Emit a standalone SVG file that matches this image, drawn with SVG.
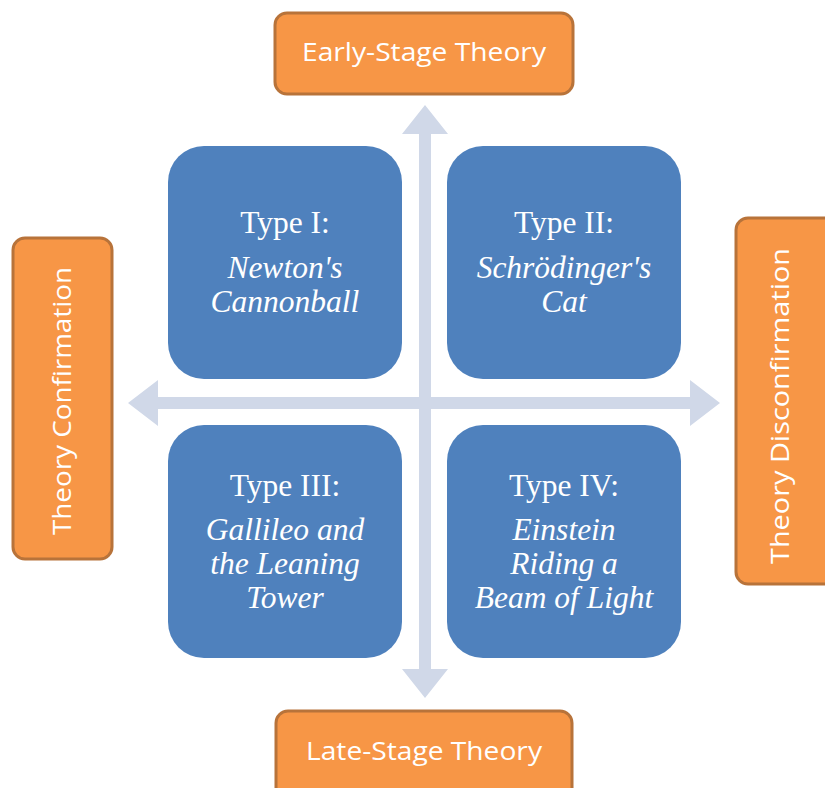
<svg xmlns="http://www.w3.org/2000/svg" width="825" height="788" viewBox="0 0 825 788">
<style>
.lab{fill:#F79646;stroke:#B8733A;stroke-width:3}
.labt{font-family:"Open Sans","Noto Sans",sans-serif;font-size:25px;fill:#fff;text-anchor:middle}
.q{fill:#4F81BD}
.qt{font-family:"Liberation Serif","DejaVu Serif",serif;font-size:31.5px;fill:#fff;text-anchor:middle}
.it{font-style:italic}
.arr{fill:#D0D8E8}
</style>
<rect width="825" height="788" fill="#fff"/>
<g id="connectors">
<path class="arr" d="M425,105 L448,134 L431,134 L431,397 L690,397 L690,380 L720,403 L690,426 L690,409 L431,409 L431,669 L448,669 L425,698 L402,669 L419,669 L419,409 L158,409 L158,426 L128,403 L158,380 L158,397 L419,397 L419,134 L402,134 Z"/>
</g>
<g id="type1"><rect class="q" x="168" y="146" width="234" height="233" rx="36"/>
<text class="qt" x="285" y="233">Type I:</text>
<text class="qt it" x="285" y="278">Newton's</text>
<text class="qt it" x="285" y="312">Cannonball</text></g>
<g id="type2"><rect class="q" x="447" y="146" width="234" height="233" rx="36"/>
<text class="qt" x="564" y="233">Type II:</text>
<text class="qt it" x="564" y="278">Schrödinger's</text>
<text class="qt it" x="564" y="312">Cat</text></g>
<g id="type3"><rect class="q" x="168" y="425" width="234" height="233" rx="36"/>
<text class="qt" x="285" y="496">Type III:</text>
<text class="qt it" x="285" y="540">Gallileo and</text>
<text class="qt it" x="285" y="574">the Leaning</text>
<text class="qt it" x="285" y="608">Tower</text></g>
<g id="type4"><rect class="q" x="447" y="425" width="234" height="233" rx="36"/>
<text class="qt" x="564" y="496">Type IV:</text>
<text class="qt it" x="564" y="540">Einstein</text>
<text class="qt it" x="564" y="574">Riding a</text>
<text class="qt it" x="564" y="608">Beam of Light</text></g>
<g id="early"><rect class="lab" x="275" y="13" width="298" height="81" rx="12"/>
<text class="labt" x="424" y="61" textLength="244" lengthAdjust="spacingAndGlyphs">Early-Stage Theory</text></g>
<g id="late"><rect class="lab" x="276" y="711" width="296" height="90" rx="12"/>
<text class="labt" x="424" y="760" textLength="236" lengthAdjust="spacingAndGlyphs">Late-Stage Theory</text></g>
<g id="confirm"><rect class="lab" x="13" y="238" width="99" height="321" rx="12"/>
<text class="labt" transform="translate(71,401) rotate(-90)" textLength="268" lengthAdjust="spacingAndGlyphs">Theory Confirmation</text></g>
<g id="disconfirm"><rect class="lab" x="736" y="218" width="110" height="366" rx="12"/>
<text class="labt" transform="translate(789,406) rotate(-90)" textLength="316" lengthAdjust="spacingAndGlyphs">Theory Disconfirmation</text></g>
</svg>
